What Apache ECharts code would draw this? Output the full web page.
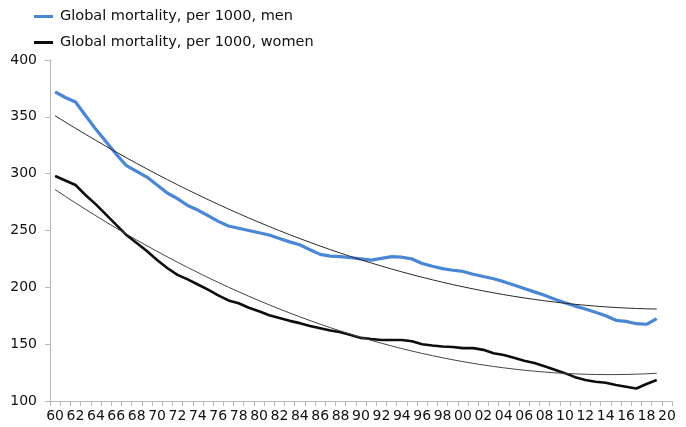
<!DOCTYPE html>
<html>
<head>
<meta charset="utf-8">
<script src="https://cdn.jsdelivr.net/npm/echarts@6/dist/echarts.min.js"></script>
<style>html,body{margin:0;padding:0;background:#fff;}#c{width:686px;height:427px;}</style>
</head>
<body>
<div id="c"></div>
<script>
// Categories: years 1960..2020 (two-digit labels)
var categories = ['60','61','62','63','64','65','66','67','68','69',
  '70','71','72','73','74','75','76','77','78','79',
  '80','81','82','83','84','85','86','87','88','89',
  '90','91','92','93','94','95','96','97','98','99',
  '00','01','02','03','04','05','06','07','08','09',
  '10','11','12','13','14','15','16','17','18','19','20'];

// Global mortality, per 1000, men (1960..2019)
var menValues = [372,367,363,351,339,328,317,307,302,297,
  290,283,278,272,268,263,258,254,252,250,
  248,246,243,240,237.5,233,229,227.5,227,226,
  225,224,225.5,227,226.5,225,221,218.5,216.5,215,
  214,211.5,209.5,207.5,205,202,199,196,193,189.5,
  186.5,183.5,181,178,175,171,170,168,167.5,172.5];

// Global mortality, per 1000, women (1960..2019)
var womenValues = [298,294,290,281,273,264,255,246,239,232,
  224,217,211,207,202.5,198,193,188.5,186,182,
  179,175.5,173,170.5,168.5,166,164,162,160.5,158,
  155.5,154.5,153.7,153.7,153.7,152.5,150,148.8,148,147.5,
  146.5,146.5,145,142,140.5,138,135.5,133.5,130.5,127.5,
  124.5,121,118.5,117,116,114,112.5,111,115,118.5];

var yTicks = {min: 100, max: 400, interval: 50};
var seriesNames = ['Global mortality, per 1000, men', 'Global mortality, per 1000, women'];

// Polynomial (order 2) least-squares trendline, as in the source chart
function quadTrend(vals) {
  var n = vals.length, S = [0,0,0,0,0], T = [0,0,0];
  for (var i = 0; i < n; i++) {
    var p = 1;
    for (var k = 0; k < 5; k++) { S[k] += p; if (k < 3) T[k] += vals[i] * p; p *= i; }
  }
  var A = [[S[0],S[1],S[2],T[0]],[S[1],S[2],S[3],T[1]],[S[2],S[3],S[4],T[2]]];
  for (var c = 0; c < 3; c++) {
    for (var r = c + 1; r < 3; r++) {
      var f = A[r][c] / A[c][c];
      for (var j = c; j < 4; j++) A[r][j] -= f * A[c][j];
    }
  }
  var x = [0,0,0];
  for (var r2 = 2; r2 >= 0; r2--) {
    var s = A[r2][3];
    for (var j2 = r2 + 1; j2 < 3; j2++) s -= A[r2][j2] * x[j2];
    x[r2] = s / A[r2][r2];
  }
  return vals.map(function (v, i) { return x[0] + x[1] * i + x[2] * i * i; });
}

var chart = echarts.init(document.getElementById('c'), null, {renderer: 'canvas'});
var FONT = 'DejaVu Sans';
chart.setOption({
  animation: false,
  backgroundColor: '#ffffff',
  textStyle: {fontFamily: FONT},
  legend: {
    left: 34, top: 8, orient: 'vertical', padding: 0,
    itemWidth: 19, itemHeight: 3, itemGap: 9, icon: 'rect',
    data: seriesNames,
    textStyle: {fontFamily: FONT, fontSize: 14.5, color: '#111', lineHeight: 17, padding: [0,0,0,2]}
  },
  grid: {left: 50, right: 14, top: 60, bottom: 26, containLabel: false},
  xAxis: {
    type: 'category', data: categories, boundaryGap: true,
    axisLine: {lineStyle: {color: '#b8b8b8', width: 1}},
    axisTick: {show: true, interval: 0, length: 5, lineStyle: {color: '#b8b8b8'}},
    axisLabel: {interval: 1, margin: 8, fontFamily: FONT, fontSize: 14, color: '#111'},
    splitLine: {show: false}
  },
  yAxis: {
    type: 'value', min: yTicks.min, max: yTicks.max, interval: yTicks.interval,
    axisLine: {show: true, lineStyle: {color: '#b8b8b8', width: 1}},
    axisTick: {show: true, length: 5, lineStyle: {color: '#b8b8b8'}},
    axisLabel: {margin: 13, fontFamily: FONT, fontSize: 14, color: '#111'},
    splitLine: {show: false}
  },
  series: [
    {name: seriesNames[0], type: 'line', data: menValues, showSymbol: false, symbol: 'none',
     lineStyle: {color: '#4a86d6', width: 3.2}, itemStyle: {color: '#4a86d6'}},
    {name: seriesNames[1], type: 'line', data: womenValues, showSymbol: false, symbol: 'none',
     lineStyle: {color: '#0d0d0d', width: 2.6}, itemStyle: {color: '#0d0d0d'}},
    {name: 'trend men', type: 'line', data: quadTrend(menValues), showSymbol: false, symbol: 'none',
     smooth: false, lineStyle: {color: '#2a2a2a', width: 1}, z: 3},
    {name: 'trend women', type: 'line', data: quadTrend(womenValues), showSymbol: false, symbol: 'none',
     smooth: false, lineStyle: {color: '#444', width: 1}, z: 3}
  ]
});
</script>
</body>
</html>
